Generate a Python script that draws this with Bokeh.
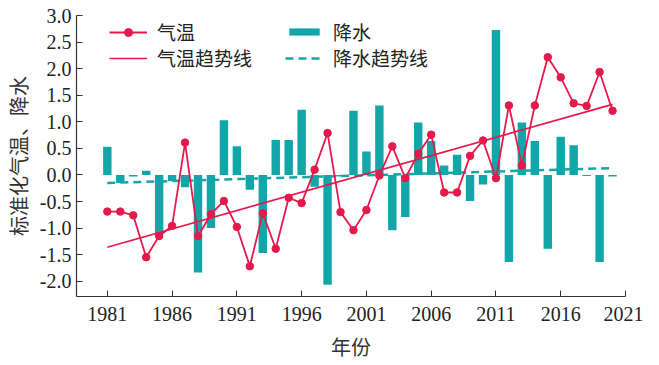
from bokeh.plotting import figure
from bokeh.models import Range1d, FixedTicker, PrintfTickFormatter, Legend, LegendItem, ColumnDataSource
from bokeh.embed import file_html
from bokeh.resources import INLINE

years = list(range(1981, 2021))
temp = [-0.69, -0.69, -0.76, -1.55, -1.15, -0.96, 0.61, -1.15, -0.74,
        -0.49, -0.98, -1.72, -0.72, -1.39, -0.43, -0.53, 0.10, 0.79, -0.70,
        -1.04, -0.66, -0.01, 0.54, -0.06, 0.40, 0.76, -0.33, -0.33,
        0.36, 0.65, -0.06, 1.31, 0.18, 1.31, 2.22, 1.84, 1.35, 1.30, 1.94, 1.21]
precip = [0.53, -0.15, -0.03, 0.08, -1.11, -0.12, -0.23, -1.84, -1.00,
          1.03, 0.54, -0.28, -1.47, 0.66, 0.66, 1.23, -0.22, -2.07, -0.03,
          1.21, 0.44, 1.31, -1.04, -0.79, 0.99, 0.64, 0.18, 0.38,
          -0.49, -0.18, 2.73, -1.64, 0.99, 0.64, -1.39, 0.72, 0.56, -0.02, -1.64, -0.03]
trend_years = [1981, 2020]
temp_trend = [-1.36, 1.33]
precip_trend = [-0.15, 0.13]
x_ticks = [1981, 1986, 1991, 1996, 2001, 2006, 2011, 2016, 2021]
y_ticks = [-2.0, -1.5, -1.0, -0.5, 0.0, 0.5, 1.0, 1.5, 2.0, 2.5, 3.0]

RED = "#e5194b"
TEAL = "#12a6a8"
TXT = "#222222"

p = figure(width=643, height=363, output_backend="svg", toolbar_location=None,
           x_range=Range1d(1978.62, 2021.0), y_range=Range1d(-2.29, 3.005),
           min_border_left=62, min_border_right=18, min_border_top=15, min_border_bottom=64)
p.outline_line_color = None
p.xgrid.visible = False
p.ygrid.visible = False

src = ColumnDataSource(dict(year=years, temp=temp, precip=precip))
bars = p.vbar(x="year", top="precip", bottom=0, width=0.65, source=src,
              fill_color=TEAL, line_color=None)
pt = p.line(trend_years, precip_trend, line_color=TEAL, line_width=2.5, line_dash="8 5")
tl = p.line("year", "temp", source=src, line_color=RED, line_width=1.8)
ts = p.scatter("year", "temp", source=src, size=7.5, fill_color=RED, line_color=RED)
tt = p.line(trend_years, temp_trend, line_color=RED, line_width=1.6)

for ax in (p.xaxis, p.yaxis):
    ax.axis_line_color = "#333333"
    ax.axis_line_width = 1.2
    ax.major_tick_line_color = "#333333"
    ax.major_tick_in = 6
    ax.major_tick_out = 0
    ax.minor_tick_line_color = None
    ax.major_label_text_font = "Liberation Serif"
    ax.major_label_text_font_size = "20px"
    ax.major_label_text_color = TXT
    ax.axis_label_text_font = "Noto Sans CJK SC"
    ax.axis_label_text_font_size = "20px"
    ax.axis_label_text_font_style = "normal"
    ax.axis_label_text_color = "#333333"

p.xaxis.ticker = FixedTicker(ticks=x_ticks)
p.yaxis.ticker = FixedTicker(ticks=y_ticks)
p.yaxis.formatter = PrintfTickFormatter(format="%.1f")
p.xaxis.axis_label = "年份"
p.yaxis.axis_label = "标准化气温、降水"
p.xaxis.major_label_standoff = 10
p.xaxis.axis_label_standoff = 8
p.yaxis.major_label_standoff = 5
p.yaxis.axis_label_standoff = 4

def make_legend(item, loc, glyph_h=20):
    leg = Legend(items=[item], location=loc, orientation="vertical")
    leg.label_text_font = "Noto Sans CJK SC"
    leg.label_text_font_size = "19px"
    leg.label_text_color = TXT
    leg.label_height = 20
    leg.glyph_height = glyph_h
    leg.glyph_width = 38
    leg.label_standoff = 10
    leg.spacing = 0
    leg.padding = 0
    leg.margin = 0
    leg.border_line_alpha = 0
    leg.background_fill_alpha = 0
    return leg

legs = [
    make_legend(LegendItem(label="气温", renderers=[tl, ts]), (33, 251)),
    make_legend(LegendItem(label="气温趋势线", renderers=[tt]), (33, 225)),
    make_legend(LegendItem(label="降水", renderers=[bars]), (209, 251), glyph_h=9),
    make_legend(LegendItem(label="降水趋势线", renderers=[pt]), (209, 225)),
]
for leg in legs:
    p.add_layout(leg, "center")

open("out.html", "w").write(file_html(p, INLINE))
